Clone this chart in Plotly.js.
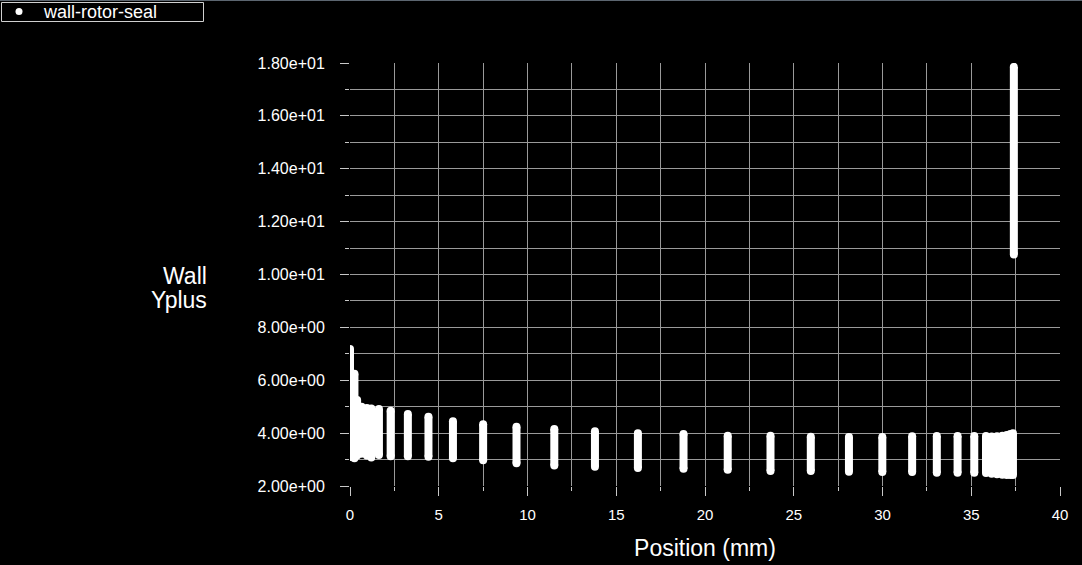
<!DOCTYPE html>
<html>
<head>
<meta charset="utf-8">
<script src="https://cdn.plot.ly/plotly-3.0.1.min.js"></script>
<style>
html,body{margin:0;padding:0;background:#000;overflow:hidden}
#topline{position:absolute;left:0;top:0;width:1082px;height:1px;background:#5c6670;z-index:5}
#chart{width:1082px;height:565px}
</style>
</head>
<body>
<div id="topline"></div>
<div id="chart"></div>
<script>
// Wall Yplus along wall-rotor-seal: each entry = one column of cells at a position
const positionMm = [0.00, 0.25, 0.40, 0.65, 0.95, 1.20, 1.63, 2.29, 3.26, 4.42,
  5.80, 7.50, 9.38, 11.51, 13.80, 16.22, 18.79, 21.28, 23.69, 25.96,
  28.11, 29.99, 31.67, 33.06, 34.23, 35.17, 35.83, 36.15, 36.45, 36.75,
  37.00, 37.20, 37.35, 37.40];
const yplusMax = [7.18, 6.25, 5.25, 5.00, 4.95, 4.93, 4.91, 4.85, 4.72, 4.62,
  4.45, 4.34, 4.24, 4.16, 4.07, 4.00, 3.97, 3.90, 3.90, 3.86,
  3.85, 3.85, 3.88, 3.89, 3.89, 3.89, 3.89, 3.87, 3.88, 3.90,
  3.93, 3.97, 4.00, 17.85];
const yplusMin = [3.10, 3.05, 3.15, 3.22, 3.15, 3.08, 3.17, 3.13, 3.13, 3.11,
  3.05, 2.97, 2.86, 2.78, 2.73, 2.68, 2.65, 2.61, 2.57, 2.57,
  2.54, 2.53, 2.53, 2.50, 2.50, 2.50, 2.49, 2.46, 2.44, 2.43,
  2.42, 2.42, 2.42, 10.76];
const yTickValues = [2, 4, 6, 8, 10, 12, 14, 16, 18];
const yTickLabels = ["2.00e+00", "4.00e+00", "6.00e+00", "8.00e+00", "1.00e+01",
  "1.20e+01", "1.40e+01", "1.60e+01", "1.80e+01"];
const seriesName = "wall-rotor-seal";

const segX = [], segY = [];
positionMm.forEach((x, i) => {
  segX.push(x, x, null);
  segY.push(yplusMin[i], yplusMax[i], null);
});

const FONT = "Liberation Sans, Arial, sans-serif";
const GRID = "#9a9a9a";
const TICK = "#c8c8c8";

// plot area in pixels (used to place the legend box outside the plot)
const PL = 350, PW = 710, PB = 486, PH = 423;
const px = v => (v - PL) / PW;
const py = v => (PB - v) / PH;

const traces = [
  {
    x: segX, y: segY, type: "scatter", mode: "lines",
    line: {color: "#ffffff", width: 8}, showlegend: false, hoverinfo: "skip",
    connectgaps: false
  },
  {
    x: segX, y: segY, type: "scatter", mode: "markers", name: seriesName,
    marker: {color: "#ffffff", size: 8, line: {width: 0}}, showlegend: false
  }
];

const layout = {
  width: 1082, height: 565,
  paper_bgcolor: "#000000", plot_bgcolor: "#000000",
  margin: {l: PL, r: 22, t: 63, b: 79, autoexpand: false},
  font: {family: FONT, color: "#ffffff"},
  showlegend: false,
  xaxis: {
    range: [0, 40], tickmode: "linear", tick0: 0, dtick: 5,
    ticks: "outside", ticklen: 9, tickcolor: TICK, tickwidth: 1,
    showgrid: true, gridcolor: GRID, gridwidth: 1,
    minor: {tickmode: "linear", tick0: 0, dtick: 2.5, ticks: "outside", ticklen: 4,
      tickcolor: TICK, showgrid: true, gridcolor: GRID, gridwidth: 1},
    zeroline: false, showline: false, mirror: false,
    tickfont: {family: FONT, size: 15, color: "#ffffff"},
    ticklabelstandoff: 6,
    title: {text: "Position (mm)", font: {family: FONT, size: 23, color: "#ffffff"}, standoff: 17},
    automargin: false, fixedrange: true
  },
  yaxis: {
    range: [2, 18], tickmode: "array", tickvals: yTickValues, ticktext: yTickLabels,
    ticks: "outside", ticklen: 9, tickcolor: TICK, tickwidth: 1,
    showgrid: true, gridcolor: GRID, gridwidth: 1,
    minor: {tickmode: "linear", tick0: 2, dtick: 1, ticks: "outside", ticklen: 4,
      tickcolor: TICK, showgrid: true, gridcolor: GRID, gridwidth: 1},
    zeroline: false, showline: false,
    tickfont: {family: FONT, size: 16, color: "#ffffff"},
    ticklabelstandoff: 12,
    automargin: false, fixedrange: true
  },
  shapes: [
    {type: "rect", xref: "paper", yref: "paper", x0: px(1.5), x1: px(203.5), y0: py(21.5), y1: py(2.5),
      line: {color: "#d0d0d0", width: 1}, fillcolor: "#000000"},
    {type: "circle", xref: "paper", yref: "paper", x0: px(15.5), x1: px(22.5), y0: py(15), y1: py(8),
      line: {width: 0}, fillcolor: "#ffffff"}
  ],
  annotations: [
    {text: "Wall", xref: "paper", yref: "paper", x: px(209), y: py(276),
      xanchor: "right", yanchor: "middle", align: "right", showarrow: false,
      font: {family: FONT, size: 23, color: "#ffffff"}},
    {text: "Yplus", xref: "paper", yref: "paper", x: px(209), y: py(300),
      xanchor: "right", yanchor: "middle", align: "right", showarrow: false,
      font: {family: FONT, size: 23, color: "#ffffff"}},
    {text: seriesName, xref: "paper", yref: "paper", x: px(41), y: py(12),
      xanchor: "left", yanchor: "middle", align: "left", showarrow: false,
      font: {family: FONT, size: 18, color: "#ffffff"}}
  ]
};

Plotly.newPlot("chart", traces, layout, {displayModeBar: false, staticPlot: true});
</script>
</body>
</html>
